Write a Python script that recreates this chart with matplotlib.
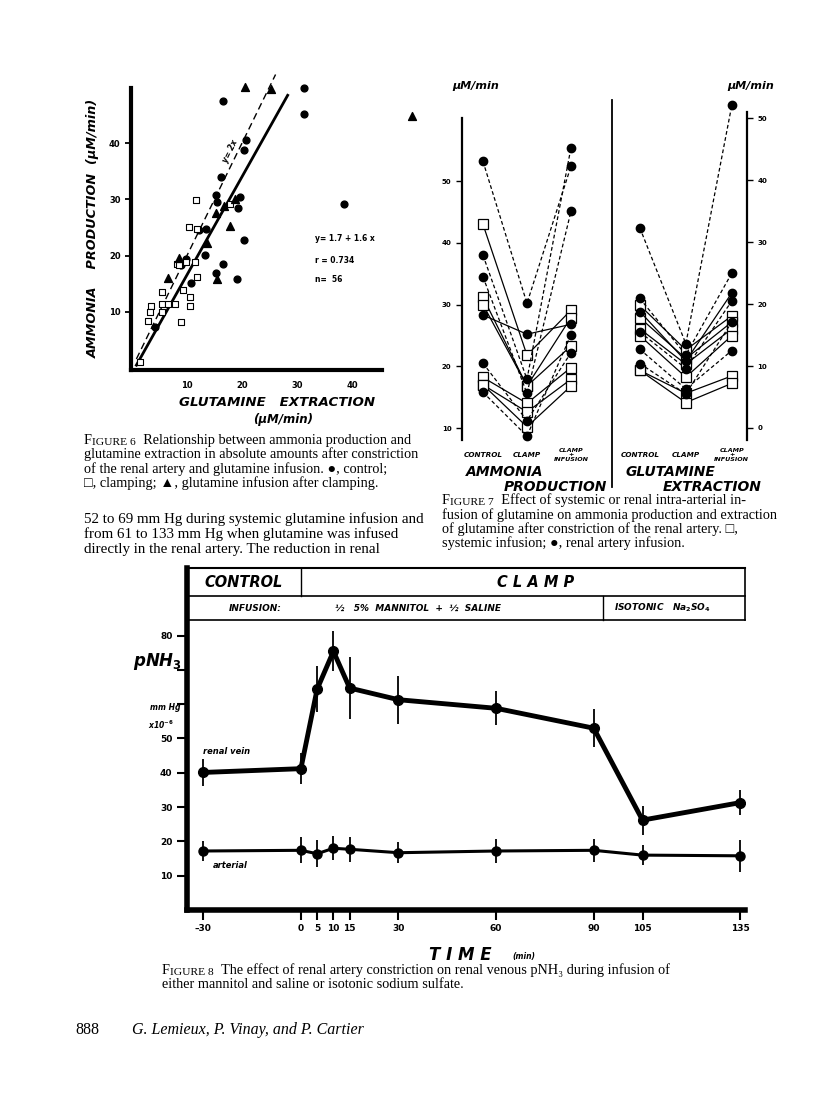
import matplotlib
matplotlib.use("Agg")
import matplotlib.pyplot as plt
import matplotlib.transforms as mtransforms
from matplotlib.lines import Line2D
from matplotlib.text import Annotation

# ---------------- Figure 6: ammonia production vs glutamine extraction
ctrl_x = [16.5, 31.2, 31.2, 20.8, 20.4, 16.2, 15.3, 15.5, 19.7, 19.2, 20.3,
          13.5, 13.2, 10.7, 16.6, 15.3, 19.0, 9.9, 38.5, 9.0, 4.1, 12.2]
ctrl_y = [47.5, 49.8, 45.2, 40.5, 38.7, 33.9, 30.7, 29.6, 30.4, 28.4, 22.8,
          24.7, 20.1, 15.2, 18.5, 16.9, 15.8, 19.3, 29.2, 18.3, 7.3, 24.5]
clamp_x = [11.6, 10.4, 11.8, 17.9, 11.5, 9.9, 8.1, 11.9, 9.2, 5.5, 5.5,
           3.5, 3.2, 2.9, 7.9, 6.5, 5.5, 10.5, 10.5, 8.9, 1.5, 8.6]
clamp_y = [29.9, 25.1, 24.8, 29.2, 18.9, 18.8, 18.5, 16.2, 13.9, 13.5, 11.3,
           11.0, 10.0, 8.3, 11.4, 11.3, 10.0, 12.6, 11.0, 8.2, 1.0, 18.4]
infus_x = [20.6, 25.2, 50.9, 18.8, 15.3, 17.9, 13.6, 6.5, 8.5, 15.5, 16.7]
infus_y = [49.9, 49.7, 44.9, 30.1, 27.6, 25.3, 22.2, 16.0, 19.5, 15.9, 28.9]
fit_x = [0.8, 28.3]
fit_y = [0.5, 48.5]
ident_x = [0.8, 26.1]
ident_y = [1.6, 52.2]

# ---------------- Figure 7: control / clamp / clamp + infusion
stages = ["CONTROL", "CLAMP", "CLAMP\n+\nINFUSION"]
amm_sq = [[43.0, 21.8, 29.1], [31.2, 16.8, 27.9], [30.0, 16.8, 23.3],
          [18.2, 14.0, 19.8], [17.0, 12.6, 17.9], [17.0, 10.2, 16.8]]
amm_ci = [[53.2, 30.2, 52.4], [38.0, 17.9, 55.4], [34.5, 15.6, 45.1],
          [28.3, 25.2, 26.8], [20.5, 11.2, 22.2], [15.8, 8.7, 25.1]]
amm_ci_ls = ["--", "--", "--", "-", "--", "--"]
glu_sq = [[19.8, 12.6, 18.1], [17.8, 11.2, 17.1], [16.0, 10.3, 16.0],
          [14.9, 8.2, 14.9], [9.3, 5.6, 8.4], [9.3, 4.1, 7.2]]
glu_ci = [[32.3, 13.6, 52.1], [20.9, 11.8, 25.0], [18.8, 10.8, 21.8],
          [15.5, 9.6, 20.5], [12.7, 6.3, 12.5], [10.4, 5.5, 17.1]]
glu_ci_ls = ["--", "--", "-", "--", "--", "--"]

# ---------------- Figure 8: pNH3 vs time
times = [-30, 0, 5, 10, 15, 30, 60, 90, 105, 135]
vein = [40.1, 41.2, 64.4, 75.4, 64.7, 61.3, 58.8, 53.0, 26.2, 31.3]
vein_err = [4.0, 4.5, 6.8, 5.8, 9.0, 7.0, 5.0, 5.5, 4.2, 3.6]
art = [17.2, 17.4, 16.4, 18.0, 17.7, 16.7, 17.2, 17.4, 16.0, 15.8]
art_err = [3.0, 3.8, 4.0, 3.5, 3.6, 3.0, 3.5, 3.3, 3.0, 4.7]
time_ticks = [-30, 0, 5, 10, 15, 30, 60, 90, 105, 135]
p_ticks = [10, 20, 30, 40, 50, 60, 70, 80]
p_labels = ["10", "20", "30", "40", "50", "", "", "80"]

W, H = 816, 1117
plt.rcParams['font.family'] = ['DejaVu Sans']
SERIF = ['Liberation Serif', 'DejaVu Sans']
BI = dict(fontweight='bold', style='italic')
CAP = 10.3

fig = plt.figure(figsize=(W / 100, H / 100), dpi=100)
fig.patch.set_facecolor('white')


def box(l, t, r, b):
    return [l / W, 1 - b / H, (r - l) / W, (b - t) / H]


def fx(x):
    return x / W


def fy(y):
    return 1 - y / H


# ===== Figure 6
ax6 = fig.add_axes(box(131, 88, 382, 370))
ax6.set_xlim(-0.18, 45.45)
ax6.set_ylim(-0.36, 49.8)
for s in ['top', 'right']:
    ax6.spines[s].set_visible(False)
ax6.spines['left'].set_linewidth(3)
ax6.spines['bottom'].set_linewidth(3)
ax6.set_xticks([10, 20, 30, 40])
ax6.set_yticks([10, 20, 30, 40])
ax6.tick_params(axis='x', length=0, pad=8, labelsize=6)
ax6.tick_params(axis='y', length=4, width=1.3, direction='out', labelsize=6)
for lab in ax6.get_xticklabels() + ax6.get_yticklabels():
    lab.set_fontweight('bold')
ax6.plot(fit_x, fit_y, color='k', lw=2, clip_on=False)
ax6.plot(ident_x, ident_y, color='k', lw=1, ls=(0, (5, 3)), clip_on=False)
ax6.scatter(ctrl_x, ctrl_y, s=24, color='k', clip_on=False, zorder=3)
ax6.scatter(clamp_x, clamp_y, s=24, marker='s', facecolor='white',
            edgecolor='k', linewidth=0.8, clip_on=False, zorder=3)
ax6.scatter(infus_x, infus_y, s=32, marker='^', color='k', clip_on=False, zorder=3)
ax6.text(17.9, 38.6, "y= 2x", rotation=64, fontsize=5.5, ha='center', va='center', **BI)
ax6.text(33.3, 23.0, "y= 1.7 + 1.6 x", fontsize=5.5, va='center', fontweight='bold')
ax6.text(33.3, 19.2, "r = 0.734", fontsize=5.5, va='center', fontweight='bold')
ax6.text(33.3, 15.7, "n=  56", fontsize=5.5, va='center', fontweight='bold')
fig.text(fx(93), fy(228), "AMMONIA    PRODUCTION  (\u00b5M/min)", rotation=90,
         ha='center', va='center', fontsize=9.2, **BI)
fig.text(fx(277), fy(403), "GLUTAMINE   EXTRACTION", ha='center', va='center',
         fontsize=9.6, **BI)
fig.text(fx(283), fy(420), "(\u00b5M/min)", ha='center', va='center', fontsize=8.5, **BI)

# ===== Figure 7
def stage_panel(ax, sq, ci, ci_ls):
    for row in sq:
        ax.plot(range(3), row, color='k', lw=0.9, marker='s', ms=6.5,
                mfc='white', mec='k', mew=0.9, clip_on=False, zorder=2)
    for row, ls in zip(ci, ci_ls):
        ax.plot(range(3), row, color='k', lw=0.9, ls=(0, (3, 2)) if ls == '--' else '-',
                marker='o', ms=6, mfc='k', mec='k', clip_on=False, zorder=3)
    ax.set_xticks([])
    for s in ['top', 'right', 'left', 'bottom']:
        ax.spines[s].set_visible(False)
    ax.tick_params(axis='y', length=4, width=1, labelsize=5)
    for lab in ax.get_yticklabels():
        lab.set_fontweight('bold')
    ax.patch.set_alpha(0)


ax7a = fig.add_axes(box(462, 112, 600, 440))
ax7a.set_xlim(-0.477, 2.66)
ax7a.set_ylim(8.06, 61.2)
stage_panel(ax7a, amm_sq, amm_ci, amm_ci_ls)
ax7a.spines['left'].set_visible(True)
ax7a.spines['left'].set_linewidth(1.6)
ax7a.spines['left'].set_bounds(8.06, 60.2)
ax7a.set_yticks([10, 20, 30, 40, 50])

ax7b = fig.add_axes(box(615, 112, 747, 440))
ax7b.set_xlim(-0.54, 2.33)
ax7b.set_ylim(-1.94, 51.0)
stage_panel(ax7b, glu_sq, glu_ci, glu_ci_ls)
ax7b.yaxis.tick_right()
ax7b.spines['right'].set_visible(True)
ax7b.spines['right'].set_linewidth(1.6)
ax7b.set_yticks([0, 10, 20, 30, 40, 50])
for lab in ax7b.get_yticklabels():
    lab.set_fontweight('bold')

for ax in (ax7a, ax7b):
    tr = mtransforms.blended_transform_factory(ax.transData, fig.transFigure)
    for i, name in enumerate(stages):
        if "\n" in name:
            ax.text(i, fy(455), name, transform=tr, ha='center', va='center',
                    fontsize=4.6, linespacing=0.9, **BI)
        else:
            ax.text(i, fy(455), name, transform=tr, ha='center', va='center',
                    fontsize=5.2, **BI)

fig.add_artist(Line2D([fx(612)] * 2, [fy(100), fy(487)], color='k', lw=1.3))
fig.text(fx(452), fy(86), "\u00b5M/min", fontsize=8, va='center', **BI)
fig.text(fx(727), fy(86), "\u00b5M/min", fontsize=8, va='center', **BI)
fig.text(fx(466), fy(472), "AMMONIA", fontsize=10, va='center', **BI)
fig.text(fx(607), fy(487), "PRODUCTION", fontsize=10, va='center', ha='right', **BI)
fig.text(fx(625), fy(472), "GLUTAMINE", fontsize=10, va='center', **BI)
fig.text(fx(762), fy(487), "EXTRACTION", fontsize=10, va='center', ha='right', **BI)

# ===== Figure 8
ax8 = fig.add_axes(box(187, 568, 745, 910))
ax8.set_xlim(-35, 136.5)
ax8.set_ylim(0, 99.7)
ax8.spines['right'].set_visible(False)
ax8.spines['left'].set_linewidth(4)
ax8.spines['bottom'].set_linewidth(4)
ax8.spines['top'].set_linewidth(1.5)
ax8.set_xticks(time_ticks)
ax8.set_xticklabels([str(t).replace('-', '\u2013') for t in time_ticks])
ax8.set_yticks(p_ticks)
ax8.set_yticklabels(p_labels)
ax8.tick_params(axis='both', length=7, width=1.5, direction='out', labelsize=6.5)
ax8.tick_params(axis='x', pad=3)
for lab in ax8.get_xticklabels() + ax8.get_yticklabels():
    lab.set_fontweight('bold')
ax8.errorbar(times, vein, yerr=vein_err, fmt='-o', color='k', lw=3.5, ms=7,
             elinewidth=1.3, capsize=0, zorder=3)
ax8.errorbar(times, art, yerr=art_err, fmt='-o', color='k', lw=2.2, ms=6.5,
             elinewidth=1.3, capsize=0, zorder=3, clip_on=False)
# header boxes
ax8.plot([-35, 136.5], [91.5, 91.5], color='k', lw=1.2, clip_on=False)
ax8.plot([-35, 136.5], [84.5, 84.5], color='k', lw=1.2, clip_on=False)
ax8.plot([0, 0], [91.5, 99.7], color='k', lw=1.0)
ax8.plot([93, 93], [84.5, 91.5], color='k', lw=1.0)
ax8.plot([136.5, 136.5], [84.5, 99.7], color='k', lw=1.2, clip_on=False)
ax8.text(-17.5, 95.6, "CONTROL", ha='center', va='center', fontsize=10.5, **BI)
ax8.text(72, 95.6, "C L A M P", ha='center', va='center', fontsize=10.5, **BI)
ax8.text(-14, 88.0, "INFUSION:", ha='center', va='center', fontsize=6.5, **BI)
ax8.text(36, 88.0, "\u00bd   5%  MANNITOL  +  \u00bd  SALINE", ha='center', va='center',
         fontsize=6.5, **BI)
ax8.text(111, 88.0, r"ISOTONIC   Na$_\mathbf{2}$SO$_\mathbf{4}$", ha='center', va='center',
         fontsize=6.5, **BI)
ax8.text(-30, 45.5, "renal vein", fontsize=6, **BI)
ax8.text(-27, 12.3, "arterial", fontsize=6, **BI)
fig.text(fx(133), fy(662), r"pNH$_\mathbf{3}$", fontsize=12, va='center', **BI)
fig.text(fx(150), fy(707), "mm Hg", fontsize=5.5, va='center', **BI)
fig.text(fx(148), fy(725), r"x10$^{\mathbf{-6}}$", fontsize=5.5, va='center', **BI)
fig.text(fx(460), fy(955), "T I M E", fontsize=12, ha='center', va='center', **BI)
fig.text(fx(512), fy(957), "(min)", fontsize=5.5, ha='left', va='center', **BI)


# ===== captions and text
def caption(x, y, num, lines, size):
    t1 = fig.text(fx(x), fy(y), "F", fontsize=size, family=SERIF, va='baseline')
    t2 = Annotation("IGURE " + num, xy=(1, 0), xycoords=t1, va='bottom',
                    fontsize=size * 0.8, family=SERIF)
    fig.add_artist(t2)
    t3 = Annotation("  " + lines[0], xy=(1, 0), xycoords=t2, va='bottom',
                    fontsize=size, family=SERIF)
    fig.add_artist(t3)
    for i, line in enumerate(lines[1:]):
        fig.text(fx(x), fy(y + 14.5 * (i + 1)), line, fontsize=size,
                 family=SERIF, va='baseline')


caption(84, 444, "6", ["Relationship between ammonia production and",
                       "glutamine extraction in absolute amounts after constriction",
                       "of the renal artery and glutamine infusion. \u25cf, control;",
                       "\u25a1, clamping; \u25b2, glutamine infusion after clamping."], CAP)
caption(442, 504, "7", ["Effect of systemic or renal intra-arterial in-",
                        "fusion of glutamine on ammonia production and extraction",
                        "of glutamine after constriction of the renal artery. \u25a1,",
                        "systemic infusion; \u25cf, renal artery infusion."], CAP)
caption(162, 974, "8", ["The effect of renal artery constriction on renal venous pNH\u2083 during infusion of",
                        "either mannitol and saline or isotonic sodium sulfate."], CAP)

body = ["52 to 69 mm Hg during systemic glutamine infusion and",
        "from 61 to 133 mm Hg when glutamine was infused",
        "directly in the renal artery. The reduction in renal"]
for i, line in enumerate(body):
    fig.text(fx(84), fy(523 + 15 * i), line, fontsize=10.8, family=SERIF, va='baseline')

fig.text(fx(75), fy(1034), "888", fontsize=11.5, family=SERIF, va='baseline')
fig.text(fx(132), fy(1034), "G. Lemieux, P. Vinay, and P. Cartier", fontsize=11.5,
         family=SERIF, style='italic', va='baseline')

fig.savefig("out.png", dpi=100)
